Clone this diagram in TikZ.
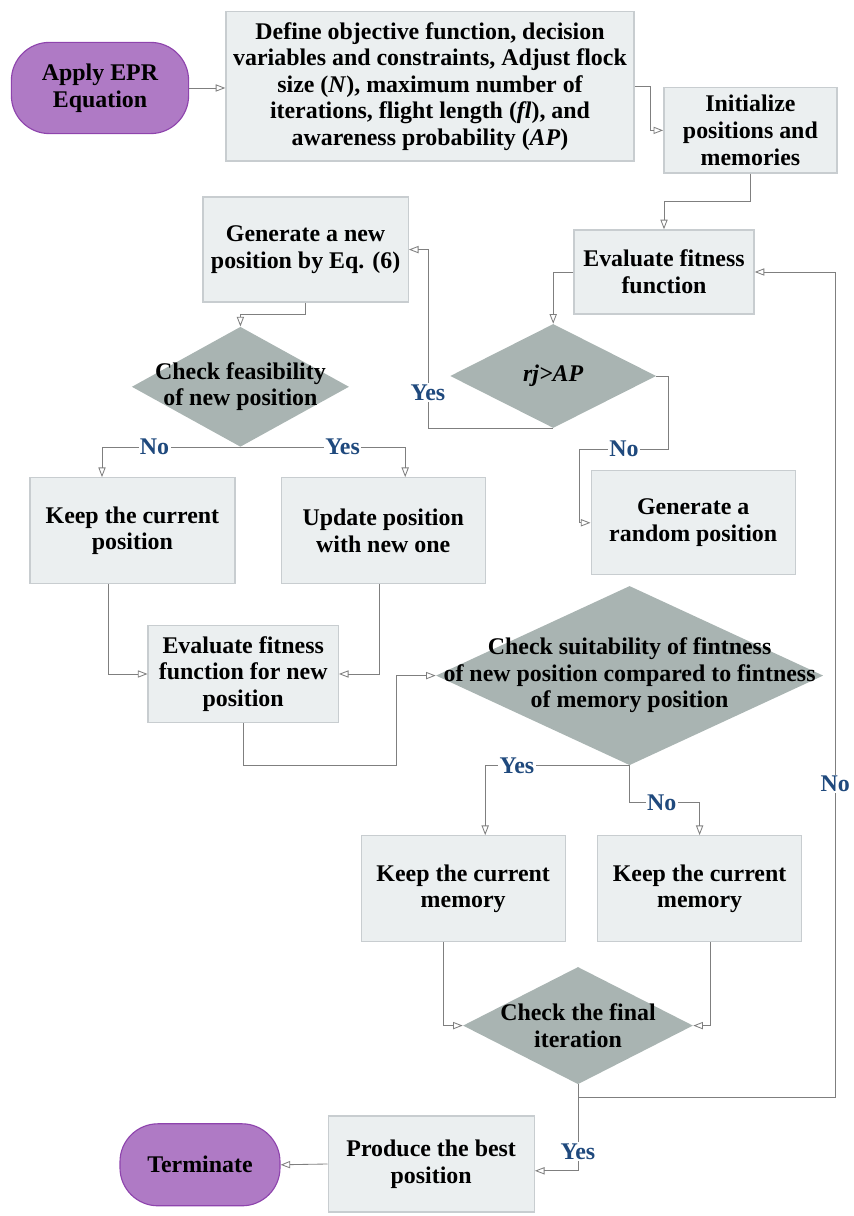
\documentclass[tikz,border=0pt]{standalone}
\usepackage{fontspec}
\setmainfont{Liberation Serif}
\usetikzlibrary{arrows.meta,shapes.geometric}

\definecolor{boxfill}{RGB}{235,239,240}
\definecolor{boxline}{RGB}{200,205,208}
\definecolor{decfill}{RGB}{169,180,178}
\definecolor{termfill}{RGB}{175,122,197}
\definecolor{termline}{RGB}{142,68,173}
\definecolor{flowline}{RGB}{127,127,127}
\definecolor{replyblue}{RGB}{31,73,125}

\begin{document}
\begin{tikzpicture}[font=\bfseries\fontsize{17}{18.9}\selectfont,
  >={Triangle[open,length=2.4mm,width=1.8mm]},
  proc/.style={draw=boxline, line width=1pt, fill=boxfill, align=center, inner sep=0pt},
  term/.style={draw=termline, line width=0.8pt, fill=termfill, rounded corners=0.95cm, align=center},
  decision/.style={diamond, fill=decfill, inner sep=0pt},
  reply/.style={text=replyblue, fill=white, inner sep=1pt},
  flow/.style={draw=flowline, line width=0.6pt, ->}] % EPR flow chart

\useasboundingbox (0,0) rectangle (21.325,30.4);

\node[term, minimum width=4.43cm, minimum height=2.28cm] (apply) at (2.5,28.2) {Apply EPR\\Equation};
\node[proc, minimum width=10.2cm, minimum height=3.73cm] (define) at (10.75,28.24) {Define objective function, decision\\variables and constraints, Adjust flock\\size (\textit{N}), maximum number of\\iterations, flight length (\textit{fl}), and\\awareness probability (\textit{AP})};
\node[proc, minimum width=4.33cm, minimum height=2.13cm] (init) at (18.76,27.14) {Initialize\\positions and\\memories};

\node[proc, minimum width=4.5cm, minimum height=2.1cm] (evalfit) at (16.6,23.6) {Evaluate fitness\\function};
\node[proc, minimum width=5.13cm, minimum height=2.63cm] (gennew) at (7.64,24.16) {Generate a new\\position by Eq. (6)};

\node[decision, minimum width=5.43cm, minimum height=3cm, label={[align=center]center:{Check feasibility\\of new position}}] (feas) at (6.01,20.73) {};
\node[decision, minimum width=5.15cm, minimum height=2.6cm, label={center:\textit{rj>AP}}] (rjap) at (13.83,21.0) {};

\node[proc, minimum width=5.13cm, minimum height=2.65cm] (keeppos) at (3.31,17.13) {Keep the current\\position};
\node[proc, minimum width=5.1cm, minimum height=2.65cm] (update) at (9.58,17.13) {Update position\\with new one};
\node[proc, minimum width=5.1cm, minimum height=2.6cm] (genrand) at (17.33,17.33) {Generate a\\random position};

\node[proc, minimum width=4.75cm, minimum height=2.43cm] (evalnew) at (6.08,13.55) {Evaluate fitness\\function for new\\position};
\node[decision, minimum width=9.68cm, minimum height=4.48cm, label={[align=center]center:{Check suitability of fintness\\of new position compared to fintness\\of memory position}}] (suit) at (15.74,13.51) {};

\node[proc, minimum width=5.1cm, minimum height=2.65cm] (keepmem1) at (11.58,8.18) {Keep the current\\memory};
\node[proc, minimum width=5.1cm, minimum height=2.65cm] (keepmem2) at (17.49,8.18) {Keep the current\\memory};

\node[decision, minimum width=5.75cm, minimum height=2.93cm, label={[align=center]center:{Check the final\\iteration}}] (final) at (14.45,4.76) {};

\node[proc, minimum width=5.15cm, minimum height=2.4cm] (produce) at (10.78,1.3) {Produce the best\\position};
\node[term, minimum width=4cm, minimum height=2.05cm] (terminate) at (5.0,1.28) {Terminate};

\draw[flow] (apply.east) -- (apply.east -| define.west);
\draw[flow] (define.east) -- ++(0.4,0) |- (init.west);
\draw[flow] (init.south) -- ++(0,-0.7) -| (evalfit.north);
\draw[flow] (evalfit.west) -| (rjap.north);
\draw[flow] (rjap.south) -- ++(-3.13,0) |- node[reply, pos=0.1] {Yes} (gennew.east);
\draw[flow] (rjap.east) -- ++(0.3,0) -- ++(0,-1.83) -- node[reply] {No} ++(-2.22,0) |- (genrand.west);
\draw[flow] (gennew.south) -- ++(0,-0.28) -| (feas.north);

\draw[flow] (feas.south) -| node[reply, pos=0.31] {No} ([xshift=-0.76cm]keeppos.north);
\draw[flow] (feas.south) -| node[reply, pos=0.31] {Yes} ([xshift=0.55cm]update.north);
\draw[flow] ([xshift=-0.59cm]keeppos.south) |- (evalnew.west);
\draw[flow] ([xshift=-0.1cm]update.south) |- (evalnew.east);
\draw[flow] (evalnew.south) -- ++(0,-1.05) -- ++(3.83,0) |- (suit.west);

\draw[flow] (suit.south) -| node[reply, pos=0.39] {Yes} ([xshift=0.55cm]keepmem1.north);
\draw[flow] (suit.south) -- ++(0,-0.93) -| node[reply, pos=0.23] {No} (keepmem2.north);
\draw[flow] ([xshift=-0.5cm]keepmem1.south) |- (final.west);
\draw[flow] ([xshift=0.26cm]keepmem2.south) |- (final.east);

\draw[flow] (final.south) -- ++(0,-0.33) -- ++(6.43,0) |- node[reply, pos=0.19] {No} (evalfit.east);
\draw[flow] (final.south) |- node[reply, pos=0.39] {Yes} ([yshift=-0.17cm]produce.east);
\draw[flow] (produce.west) -- (terminate.east);

\end{tikzpicture}
\end{document}
